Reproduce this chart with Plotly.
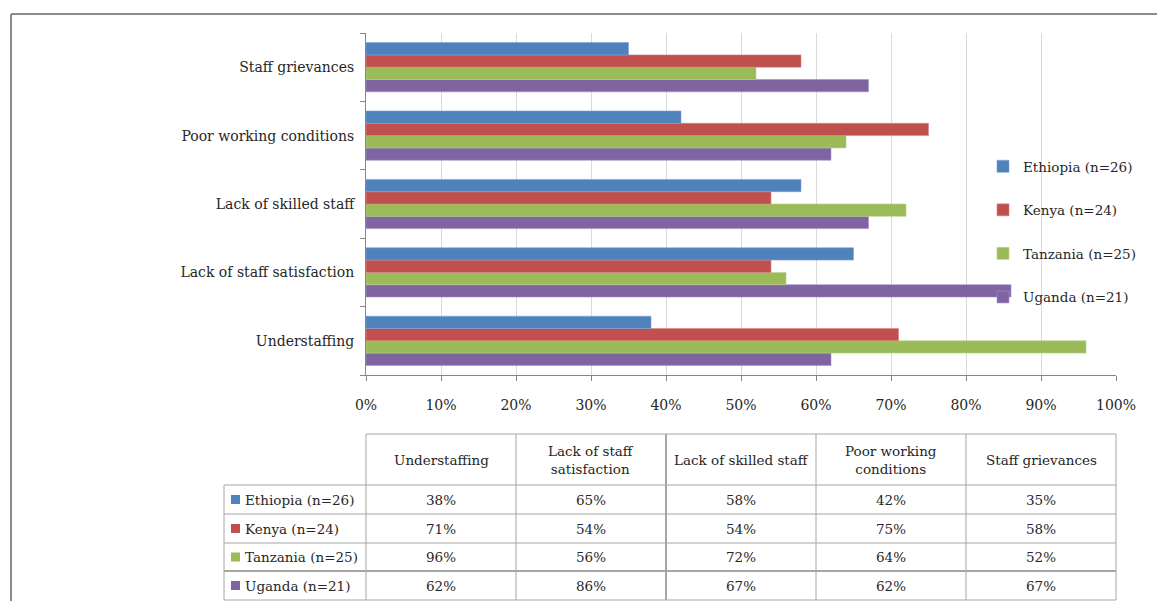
import plotly.graph_objects as go

categories = ["Understaffing", "Lack of staff satisfaction", "Lack of skilled staff",
              "Poor working conditions", "Staff grievances"]
header_labels = ["Understaffing", "Lack of staff<br>satisfaction", "Lack of skilled staff",
                 "Poor working<br>conditions", "Staff grievances"]
countries = ["Ethiopia (n=26)", "Kenya (n=24)", "Tanzania (n=25)", "Uganda (n=21)"]
ethiopia = [38, 65, 58, 42, 35]
kenya = [71, 54, 54, 75, 58]
tanzania = [96, 56, 72, 64, 52]
uganda = [62, 86, 67, 62, 67]
series = [ethiopia, kenya, tanzania, uganda]
colors = ["#4F81BD", "#C0504D", "#9BBB59", "#8064A2"]
edge_colors = ["#7FA3D3", "#D88684", "#B9D18A", "#A690C2"]
x_ticks = [0, 0.1, 0.2, 0.3, 0.4, 0.5, 0.6, 0.7, 0.8, 0.9, 1.0]

FONT = "DejaVu Serif"
W, H = 1157, 601
L, R, T, B = 366, 1116, 33, 375  # plot area in px


def px(x):
    return (x - L) / (R - L)


def py(y):
    return (B - y) / (B - T)


fig = go.Figure()
# add in reverse so Ethiopia is drawn at the top of each group
for i in reversed(range(len(countries))):
    fig.add_trace(go.Bar(
        y=categories, x=[v / 100 for v in series[i]], name=countries[i],
        orientation="h", marker=dict(color=colors[i], line=dict(color=edge_colors[i], width=0.6)),
        legendgroup=countries[i], legendrank=1 + i, hoverinfo="x+name",
    ))

shapes = []
annotations = []
line_col = "#A6A6A6"

# outer frame (partially cropped in reference)
shapes.append(dict(type="line", xref="paper", yref="paper", x0=px(11), x1=px(1160), y0=py(14), y1=py(14),
                   line=dict(color="#8C8C8C", width=2)))
shapes.append(dict(type="line", xref="paper", yref="paper", x0=px(11), x1=px(11), y0=py(14), y1=py(605),
                   line=dict(color="#8C8C8C", width=2)))

# table grid
col_x = [366, 516, 666, 816, 966, 1116]
row_y = [434, 485, 514, 543, 571, 600]
shapes.append(dict(type="line", xref="paper", yref="paper", x0=px(366), x1=px(1116), y0=py(434), y1=py(434),
                   line=dict(color=line_col, width=1)))
for yy in row_y[1:]:
    w = 2 if yy == 571 else 1
    shapes.append(dict(type="line", xref="paper", yref="paper", x0=px(224), x1=px(1116), y0=py(yy), y1=py(yy),
                       line=dict(color=line_col, width=w)))
shapes.append(dict(type="line", xref="paper", yref="paper", x0=px(224), x1=px(224), y0=py(485), y1=py(600),
                   line=dict(color=line_col, width=1)))
for xx in col_x:
    w = 2 if xx == 666 else 1
    shapes.append(dict(type="line", xref="paper", yref="paper", x0=px(xx), x1=px(xx), y0=py(434), y1=py(600),
                       line=dict(color=line_col, width=w)))

# header texts
for k, lab in enumerate(header_labels):
    cx = (col_x[k] + col_x[k + 1]) / 2
    annotations.append(dict(xref="paper", yref="paper", x=px(cx), y=py(459.5), text=lab, showarrow=False,
                            xanchor="center", yanchor="middle", font=dict(family=FONT, size=13.5, color="#262626")))

# rows
for r in range(len(countries)):
    cy = (row_y[r + 1] + row_y[r + 2]) / 2
    shapes.append(dict(type="rect", xref="paper", yref="paper", x0=px(231), x1=px(240), y0=py(cy - 4.5),
                       y1=py(cy + 4.5), fillcolor=colors[r], line=dict(width=0)))
    annotations.append(dict(xref="paper", yref="paper", x=px(243), y=py(cy), text=countries[r], showarrow=False,
                            xanchor="left", yanchor="middle", font=dict(family=FONT, size=13.5, color="#262626")))
    for k in range(len(categories)):
        cx = (col_x[k] + col_x[k + 1]) / 2
        annotations.append(dict(xref="paper", yref="paper", x=px(cx), y=py(cy), text=f"{series[r][k]}%",
                                showarrow=False, xanchor="center", yanchor="middle",
                                font=dict(family=FONT, size=13.5, color="#262626")))

fig.update_layout(
    width=W, height=H,
    margin=dict(l=L, r=W - R, t=T, b=H - B, pad=0),
    paper_bgcolor="white", plot_bgcolor="white",
    barmode="group", bargap=0.28, bargroupgap=0,
    font=dict(family=FONT, size=14, color="#262626"),
    showlegend=True,
    legend=dict(x=px(983), y=py(151), xanchor="left", yanchor="top", traceorder="grouped",
                tracegroupgap=23, font=dict(family=FONT, size=13.5, color="#262626"),
                bgcolor="rgba(0,0,0,0)", itemwidth=30),
    xaxis=dict(range=[0, 1], tickvals=x_ticks, tickformat=".0%", showgrid=True, gridcolor="#D9D9D9",
               gridwidth=1, zeroline=False, showline=True, linecolor="#868686", linewidth=1,
               ticks="outside", ticklen=5, tickcolor="#868686", ticklabelstandoff=12,
               tickfont=dict(family=FONT, size=14, color="#262626"), fixedrange=True),
    yaxis=dict(categoryorder="array", categoryarray=categories, range=[-0.5, 4.5], showgrid=False,
               zeroline=False, showline=True, linecolor="#868686", linewidth=1, ticks="outside",
               tickson="boundaries", ticklen=5, tickcolor="#868686", ticklabelstandoff=8,
               tickfont=dict(family=FONT, size=14, color="#262626"), fixedrange=True),
    shapes=shapes, annotations=annotations,
)

fig.write_html("out.html")
